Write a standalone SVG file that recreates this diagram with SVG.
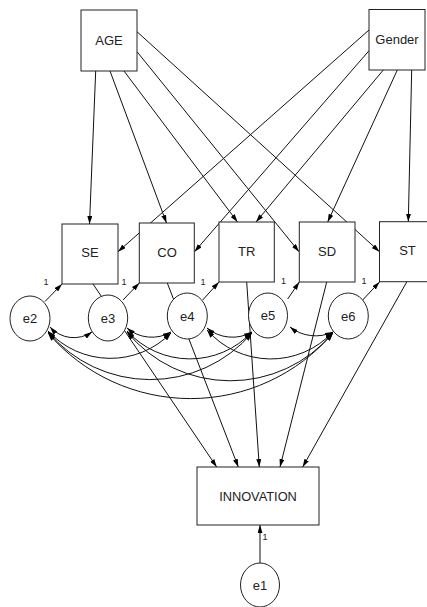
<svg xmlns="http://www.w3.org/2000/svg" width="427" height="607" viewBox="0 0 427 607">
<defs>
<marker id="ah" viewBox="0 0 8 5" refX="8" refY="2.5" markerWidth="8" markerHeight="5" markerUnits="userSpaceOnUse" orient="auto-start-reverse">
<path d="M0,0 L8,2.5 L0,5 z" fill="#000"/>
</marker>
</defs>
<style>
.box{fill:#fff;stroke:#222;stroke-width:1}
.ell{fill:#fff;stroke:#222;stroke-width:1}
.lbl{font-family:"Liberation Sans",Arial,sans-serif;font-size:13px;fill:#222;text-anchor:middle}
.one{font-family:"Liberation Sans",Arial,sans-serif;font-size:9px;fill:#222;text-anchor:middle}
.p{fill:none;stroke:#111;stroke-width:1;marker-end:url(#ah)}
.c{fill:none;stroke:#111;stroke-width:1;marker-start:url(#ah);marker-end:url(#ah)}
</style>
<rect width="427" height="607" fill="#fff"/>

<g id="connectors">
<!-- AGE paths -->
<line class="p" x1="95.7" y1="71" x2="89.5" y2="224"/>
<line class="p" x1="110" y1="71" x2="166.5" y2="223"/>
<line class="p" x1="124" y1="71" x2="237.5" y2="222"/>
<line class="p" x1="137" y1="51.7" x2="299" y2="251.7"/>
<line class="p" x1="137" y1="31.7" x2="379.5" y2="251.7"/>
<!-- Gender paths -->
<line class="p" x1="369" y1="30" x2="118" y2="251.7"/>
<line class="p" x1="369" y1="50.7" x2="194.5" y2="251.7"/>
<line class="p" x1="383.3" y1="70" x2="256" y2="222"/>
<line class="p" x1="397.3" y1="70" x2="327.7" y2="222"/>
<line class="p" x1="411.7" y1="70" x2="408.3" y2="221.7"/>
<!-- error to observed -->
<line class="p" x1="45" y1="301.5" x2="62" y2="284"/>
<line class="p" x1="123" y1="300" x2="139.3" y2="283"/>
<line class="p" x1="202.7" y1="300" x2="219" y2="282"/>
<line class="p" x1="287.7" y1="299" x2="299.3" y2="282"/>
<line class="p" x1="362.7" y1="300" x2="379.5" y2="282"/>
<!-- to INNOVATION -->
<line class="p" x1="93" y1="284" x2="216.7" y2="467"/>
<line class="p" x1="167.3" y1="283" x2="238.3" y2="467"/>
<line class="p" x1="246.7" y1="282" x2="259.3" y2="467"/>
<line class="p" x1="326.7" y1="282" x2="280" y2="467"/>
<line class="p" x1="406.7" y1="282" x2="302.7" y2="467"/>
<line class="p" x1="260" y1="563" x2="260" y2="525"/>
<!-- covariances: adjacent -->
<path class="c" d="M50,327 A32,32 0 0 0 92,332"/>
<path class="c" d="M127,328 A38,38 0 0 0 171,332"/>
<path class="c" d="M207,328 A39.6,39.6 0 0 0 252,332"/>
<path class="c" d="M290,327 A41.5,41.5 0 0 0 333,332"/>
<!-- span 2 -->
<path class="c" d="M48,331 A85,85 0 0 0 171,333"/>
<path class="c" d="M127,331 A85,85 0 0 0 252,332"/>
<path class="c" d="M207,330 A85,85 0 0 0 333,332"/>
<!-- span 3 -->
<path class="c" d="M48,332 A134,134 0 0 0 252,333"/>
<path class="c" d="M127,332 A134,134 0 0 0 333,333"/>
<!-- span 4 -->
<path class="c" d="M48,333 A187.6,187.6 0 0 0 333,333"/>
</g>

<g id="AGE"><rect class="box" x="81" y="10" width="56" height="61"/><text class="lbl" x="109" y="45">AGE</text></g>
<g id="Gender"><rect class="box" x="369" y="9.5" width="56" height="60.5"/><text class="lbl" x="397" y="44.3">Gender</text></g>

<g id="SE"><rect class="box" x="62" y="224" width="56" height="60"/><text class="lbl" x="90" y="257.3">SE</text></g>
<g id="CO"><rect class="box" x="139.3" y="223" width="55" height="60"/><text class="lbl" x="167" y="256.5">CO</text></g>
<g id="TR"><rect class="box" x="219" y="222" width="55.3" height="60"/><text class="lbl" x="246.7" y="255.5">TR</text></g>
<g id="SD"><rect class="box" x="299.3" y="222" width="55.7" height="60"/><text class="lbl" x="327" y="255.5">SD</text></g>
<g id="ST"><rect class="box" x="379.5" y="221.7" width="56" height="60"/><text class="lbl" x="407.5" y="255.3">ST</text></g>

<g id="INNOVATION"><rect class="box" x="197" y="467" width="122" height="58"/><text class="lbl" x="258" y="500.5" style="font-size:12.8px">INNOVATION</text></g>

<g id="e2"><ellipse class="ell" cx="30" cy="318.5" rx="20" ry="22.5"/><text class="lbl" x="30" y="323">e2</text></g>
<g id="e3"><ellipse class="ell" cx="108" cy="318" rx="19.7" ry="23"/><text class="lbl" x="108" y="322.5">e3</text></g>
<g id="e4"><ellipse class="ell" cx="187.3" cy="316" rx="20" ry="23"/><text class="lbl" x="187.3" y="320.5">e4</text></g>
<g id="e5"><ellipse class="ell" cx="268" cy="315.5" rx="19.5" ry="22.5"/><text class="lbl" x="268" y="320">e5</text></g>
<g id="e6"><ellipse class="ell" cx="348.3" cy="316" rx="20" ry="23"/><text class="lbl" x="348.3" y="320.5">e6</text></g>
<g id="e1"><ellipse class="ell" cx="260" cy="585" rx="19.5" ry="22"/><text class="lbl" x="260" y="589.5">e1</text></g>

<g id="weights">
<text class="one" x="46" y="285">1</text>
<text class="one" x="124" y="285">1</text>
<text class="one" x="203" y="284.5">1</text>
<text class="one" x="283.5" y="284">1</text>
<text class="one" x="364" y="284">1</text>
<text class="one" x="265" y="540">1</text>
</g>
</svg>
